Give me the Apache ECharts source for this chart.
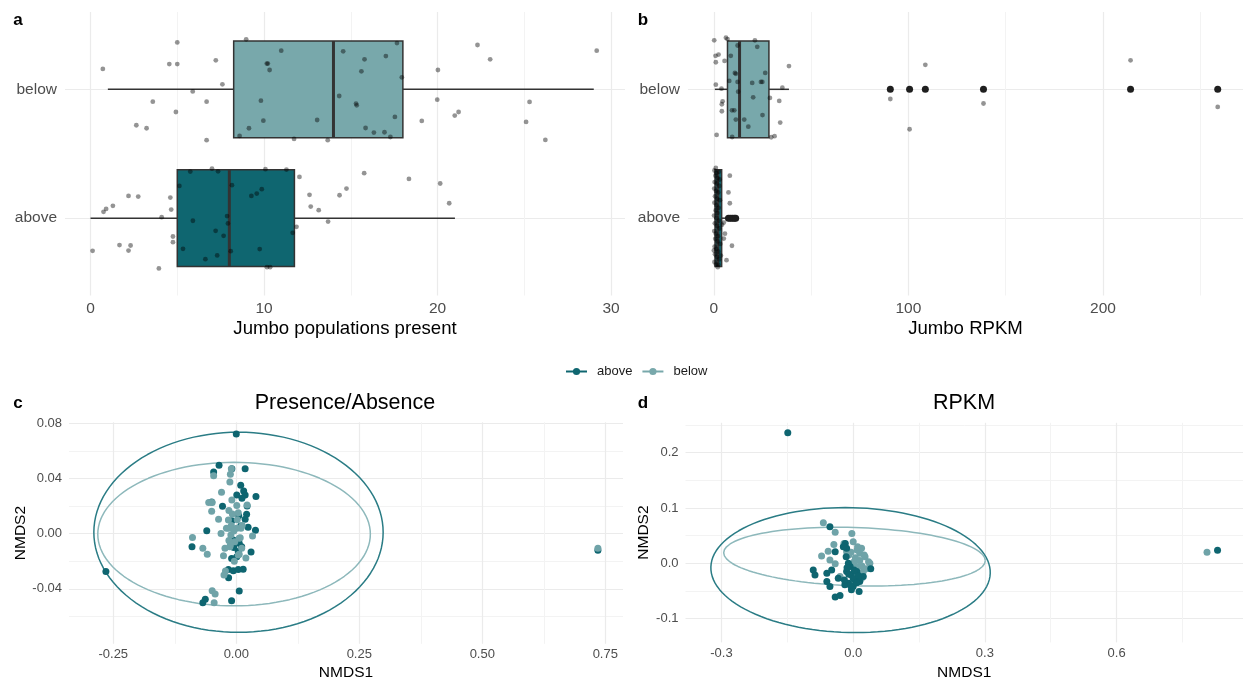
<!DOCTYPE html>
<html><head><meta charset="utf-8">
<script src="https://cdn.jsdelivr.net/npm/echarts@6/dist/echarts.min.js"></script>
<style>html,body{margin:0;padding:0;background:#fff}#chart{width:1244px;height:679px}</style>
</head><body><div id="chart"></div>
<script>
// ---------- data ----------
const categories = ['above', 'below'];           // y positions 1, 2
// box stats: [min, Q1, median, Q3, max]
const aBoxAbove = [0, 5, 8, 11.75, 21];
const aBoxBelow = [1, 8.25, 14, 18, 29];
const bBoxAbove = [0.2, 0.6, 2.0, 4.0, 6.5];
const bBoxBelow = [0.5, 7.0, 13.2, 28.3, 38.6];
const bOutliersAbove = [7.5, 8.5, 9.5, 10.5, 11.2];
const bOutliersBelow = [90.7, 100.6, 108.7, 138.6, 214.2, 259];

// jittered points: [value, vertical jitter offset]
const aJitterBelow = [[8.97,0.388],[5.0,0.364],[0.71,0.158],[4.54,0.196],[5.0,0.196],[7.22,0.225],[7.6,0.039],[5.89,-0.016],[3.59,-0.096],[6.69,-0.096],[4.92,-0.176],[2.64,-0.279],[3.23,-0.302],[6.69,-0.395],[10.99,0.30],[10.16,0.20],[10.22,0.20],[10.32,0.15],[9.82,-0.088],[9.96,-0.243],[9.13,-0.302],[8.59,-0.362],[11.73,-0.385],[13.06,-0.238],[13.67,-0.395],[14.56,0.295],[15.79,0.233],[17.02,0.258],[17.66,0.359],[15.61,0.14],[17.94,0.093],[14.33,-0.052],[15.3,-0.111],[15.34,-0.124],[17.54,-0.214],[15.85,-0.30],[16.33,-0.336],[16.94,-0.333],[17.28,-0.37],[22.3,0.344],[23.03,0.233],[20.02,0.15],[19.98,-0.08],[19.09,-0.245],[20.99,-0.204],[21.21,-0.176],[25.3,-0.098],[25.1,-0.253],[26.21,-0.393],[29.17,0.30]];
const aJitterAbove = [[0.12,-0.253],[0.75,0.049],[0.9,0.072],[1.29,0.096],[2.19,0.173],[2.75,0.168],[1.67,-0.209],[2.31,-0.212],[2.19,-0.251],[3.94,-0.39],[4.1,0.008],[4.6,0.16],[4.65,0.067],[4.75,-0.142],[4.75,-0.186],[5.12,0.25],[5.75,0.362],[5.9,-0.02],[5.33,-0.238],[6.62,-0.318],[7.0,0.385],[7.35,0.364],[7.21,-0.098],[7.67,-0.137],[7.3,-0.289],[7.87,0.016],[7.92,-0.041],[8.15,0.256],[8.08,-0.256],[9.27,0.173],[9.58,0.191],[9.87,0.225],[10.08,0.38],[9.75,-0.24],[10.17,-0.38],[10.35,-0.38],[11.29,0.377],[12.04,0.32],[11.65,-0.114],[11.87,-0.067],[12.62,0.181],[12.69,0.09],[13.15,0.062],[13.69,-0.026],[14.35,0.178],[14.75,0.23],[15.77,0.349],[18.35,0.305],[20.15,0.269],[20.67,0.116]];
const bJitterBelow = [[0.17,0.38],[6.2,0.40],[7.0,0.39],[0.86,0.26],[2.4,0.27],[1.0,0.21],[5.5,0.22],[8.7,0.26],[12.2,0.34],[21.1,0.38],[22.3,0.33],[38.6,0.18],[26.4,0.127],[10.8,0.127],[11.3,0.12],[7.9,0.065],[12.2,0.057],[19.7,0.05],[24.2,0.057],[24.9,0.057],[1.0,0.036],[3.9,0.005],[12.5,-0.018],[35.2,0.013],[20.2,-0.062],[28.8,-0.067],[33.6,-0.09],[4.5,-0.093],[4.1,-0.116],[4.1,-0.17],[9.3,-0.163],[10.5,-0.163],[11.3,-0.235],[15.6,-0.235],[25.0,-0.2],[17.7,-0.29],[34.1,-0.258],[1.4,-0.354],[9.4,-0.37],[29.5,-0.372],[31.2,-0.364],[90.7,-0.075],[100.6,-0.31],[108.7,0.19],[138.6,-0.11],[214.2,0.225],[259,-0.137]];
const bJitterAbove = [[0.3,0.37],[1.2,0.35],[2.5,0.36],[0.8,0.33],[1.9,0.31],[0.4,0.28],[1.5,0.27],[2.8,0.25],[0.2,0.23],[1.1,0.21],[2.2,0.2],[0.6,0.17],[1.7,0.15],[3.1,0.14],[0.3,0.12],[1.3,0.1],[2.4,0.08],[0.9,0.06],[1.8,0.04],[0.1,0.02],[1.4,0.0],[2.6,-0.02],[0.5,-0.04],[1.6,-0.06],[2.9,-0.08],[0.2,-0.1],[1.0,-0.12],[2.1,-0.14],[0.7,-0.16],[1.9,-0.18],[3.3,-0.2],[0.4,-0.22],[1.2,-0.24],[2.3,-0.26],[0.6,-0.28],[1.5,-0.3],[2.7,-0.32],[0.3,-0.34],[1.1,-0.36],[2.0,-0.38],[3.6,-0.29],[3.0,0.3],[0.0,-0.25],[1.0,0.39],[2.2,-0.36],[8.2,0.33],[7.5,0.2],[8.2,0.116],[5.1,-0.034],[5.7,-0.12],[9.3,-0.214],[6.5,-0.326],[5.1,-0.158],[4.2,-0.05]];

// NMDS points [NMDS1, NMDS2]
const cAbove = [[-0.035,0.0495],[-0.046,0.0447],[-0.009,0.047],[0.018,0.047],[0.009,0.035],[0.001,0.028],[0.015,0.031],[0.018,0.028],[0.0115,0.0256],[0.04,0.027],[-0.028,0.0198],[-0.05,0.023],[0.022,0.020],[0.021,0.014],[0.018,0.0104],[0.005,0.013],[-0.009,0.0094],[0.009,0.0056],[0.024,0.0046],[0.039,0.0024],[-0.060,0.0022],[-0.090,-0.0094],[-0.006,-0.0046],[-0.005,-0.01],[0.006,-0.007],[0.011,-0.0094],[0.030,-0.0133],[0.004,-0.013],[0.001,-0.0167],[-0.0095,-0.018],[-0.016,-0.026],[-0.006,-0.0268],[0.004,-0.026],[0.014,-0.0258],[-0.0156,-0.0319],[0.006,-0.0415],[-0.0095,-0.0486],[-0.063,-0.0476],[-0.068,-0.050],[0.0,0.0722],[-0.265,-0.0275],[0.735,-0.012]];
const cBelow = [[-0.046,0.042],[-0.012,0.043],[-0.010,0.047],[-0.013,0.0374],[-0.030,0.030],[-0.056,0.0225],[-0.049,0.0225],[-0.050,0.0162],[-0.009,0.0244],[0.001,0.0205],[0.022,0.0208],[-0.015,0.0167],[0.004,0.0152],[-0.008,0.0143],[-0.036,0.0104],[-0.016,0.0099],[-0.010,0.006],[0.001,0.0039],[-0.0156,0.0039],[0.0095,0.0039],[-0.031,0.0002],[-0.011,-0.001],[0.033,-0.0017],[-0.089,-0.0027],[0.006,-0.0034],[-0.015,-0.005],[-0.003,-0.0058],[-0.023,-0.0106],[-0.013,-0.0094],[0.011,-0.0106],[-0.068,-0.0106],[-0.059,-0.015],[-0.026,-0.016],[0.0195,-0.0176],[0.004,-0.0155],[-0.022,-0.027],[-0.025,-0.030],[-0.049,-0.0413],[-0.043,-0.0437],[-0.045,-0.050],[-0.005,0.002],[0.008,-0.003],[-0.012,-0.008],[0.002,0.01],[0.012,0.006],[-0.02,0.004],[0.006,-0.015],[-0.004,-0.02],[0.735,-0.0105]];
const dAbove = [[-0.053,0.066],[-0.041,0.021],[-0.018,0.036],[-0.015,0.027],[-0.0225,0.030],[-0.091,-0.012],[-0.087,-0.021],[-0.060,-0.018],[-0.049,-0.012],[-0.060,-0.033],[-0.053,-0.042],[-0.034,-0.027],[-0.015,-0.015],[-0.007,-0.006],[-0.004,-0.021],[0.008,-0.015],[0.004,-0.030],[-0.011,-0.036],[0.015,-0.033],[0.023,-0.024],[0.040,-0.010],[-0.041,-0.061],[-0.030,-0.058],[-0.004,-0.048],[0.0135,-0.051],[-0.019,-0.039],[0.0,-0.042],[-0.011,0.0],[-0.016,0.012],[-0.01,-0.02],[0.0,-0.028],[0.008,-0.035],[-0.006,-0.04],[0.012,-0.022],[-0.014,-0.008],[0.002,-0.012],[-0.02,-0.03],[-0.149,0.236],[0.830,0.0235]];
const dBelow = [[-0.068,0.0735],[-0.041,0.056],[-0.003,0.054],[0.0,0.039],[-0.044,0.034],[-0.057,0.022],[-0.072,0.013],[-0.053,0.006],[-0.041,-0.001],[0.015,0.018],[0.027,0.012],[0.035,0.003],[0.038,0.0],[0.009,0.024],[0.019,0.027],[0.002,0.003],[0.012,-0.006],[0.023,-0.015],[0.019,-0.027],[-0.015,0.021],[-0.021,0.036],[-0.030,-0.024],[0.005,0.01],[0.015,0.005],[-0.005,0.02],[0.025,0.015],[0.02,-0.005],[0.01,0.03],[-0.01,0.015],[0.03,-0.01],[0.0,-0.005],[0.806,0.020]];

// ellipse parameters [centre x, centre y, radius x, radius y, x-shear, y-shear]
const cEllipseAbove = [0.0045, 0.001, 0.294, 0.0725, 0, 0];
const cEllipseBelow = [-0.0045, -0.0003, 0.277, 0.052, 0, 0];
const dEllipseAbove = [-0.006, -0.0123, 0.318, 0.113, -0.012, 0];
const dEllipseBelow = [0.003, 0.012, 0.298, 0.0527, 0, -0.007];

// tick labels
const aTicksX = [0, 10, 20, 30];
const aMinorX = [5, 15, 25];
const bTicksX = [0, 100, 200];
const bMinorX = [50, 150, 250];
const cTicksX = [-0.25, 0, 0.25, 0.5, 0.75];
const cMinorX = [-0.125, 0.125, 0.375, 0.625];
const cTicksY = [-0.04, 0, 0.04, 0.08];
const cMinorY = [-0.06, -0.02, 0.02, 0.06];
const dTicksX = [-0.3, 0, 0.3, 0.6];
const dMinorX = [-0.15, 0.15, 0.45, 0.75];
const dTicksY = [-0.1, 0, 0.1, 0.2];
const dMinorY = [-0.05, 0.05, 0.15, 0.25];

// ---------- styles ----------
const DARK = '#0f6670';
const LIGHT = '#78a8ab';
const DARK_PT = '#0e6570';
const LIGHT_PT = '#6fa3a8';
const DARK_ELL = '#2a7c85';
const LIGHT_ELL = '#8db8bb';
const LINE = '#333333';
const GRID = '#ebebeb';
const GRID_MINOR = '#f3f3f3';
const FONT = '"Liberation Sans", Arial, Helvetica, sans-serif';
const BOX_HALF = 0.375;
const BOX_FILLS = [DARK, LIGHT];

function ellipse(p) {
  const pts = [];
  for (let k = 0; k <= 120; k++) {
    const t = k / 120 * Math.PI * 2;
    pts.push([p[0] + p[2] * Math.cos(t) + p[4] * Math.sin(t), p[1] + p[3] * Math.sin(t) + p[5] * Math.cos(t)]);
  }
  return pts;
}

function majorAxis(grid, min, max, ticks, fmt, name, nameGap, labelSize, nameSize, margin) {
  return {
    type: 'value', gridIndex: grid, min: min, max: max,
    axisLine: {show: false},
    axisTick: {show: false, customValues: ticks},
    axisLabel: {customValues: ticks, formatter: fmt, color: '#4d4d4d', fontSize: labelSize, fontFamily: FONT, margin: margin},
    splitLine: {show: true, customValues: ticks, lineStyle: {color: GRID, width: 1.2}},
    name: name, nameLocation: 'middle', nameGap: nameGap,
    nameTextStyle: {color: '#000', fontSize: nameSize, fontFamily: FONT}
  };
}
function minorAxis(grid, min, max, ticks) {
  return {
    type: 'value', gridIndex: grid, min: min, max: max,
    axisLine: {show: false},
    axisTick: {show: false, customValues: ticks},
    axisLabel: {show: false, customValues: ticks},
    splitLine: {show: true, customValues: ticks, lineStyle: {color: GRID_MINOR, width: 1}}
  };
}

function renderBox(params, api) {
  const pos = api.value(0);
  const v = [api.value(1), api.value(2), api.value(3), api.value(4), api.value(5)];
  const tl = api.coord([v[1], pos + BOX_HALF]);
  const br = api.coord([v[3], pos - BOX_HALF]);
  const cMin = api.coord([v[0], pos]), cQ1 = api.coord([v[1], pos]);
  const cQ3 = api.coord([v[3], pos]), cMax = api.coord([v[4], pos]);
  const mT = api.coord([v[2], pos + BOX_HALF]), mB = api.coord([v[2], pos - BOX_HALF]);
  return {type: 'group', children: [
    {type: 'line', shape: {x1: cMin[0], y1: cMin[1], x2: cQ1[0], y2: cQ1[1]}, style: {stroke: LINE, lineWidth: 1.5}},
    {type: 'line', shape: {x1: cQ3[0], y1: cQ3[1], x2: cMax[0], y2: cMax[1]}, style: {stroke: LINE, lineWidth: 1.5}},
    {type: 'rect', shape: {x: tl[0], y: tl[1], width: br[0] - tl[0], height: br[1] - tl[1]}, style: {fill: BOX_FILLS[params.dataIndex], stroke: LINE, lineWidth: 1.5}},
    {type: 'line', shape: {x1: mT[0], y1: mT[1], x2: mB[0], y2: mB[1]}, style: {stroke: LINE, lineWidth: 3}}
  ]};
}

const catFmt = v => categories[Math.round(v) - 1];
const jit = (arr, pos) => arr.map(d => [d[0], pos + d[1]]);
const f2 = v => v.toFixed(2);
const f1 = v => v.toFixed(1);
const JIT_STYLE = {color: 'rgba(0,0,0,0.42)', opacity: 1};

const A_Y = [0.4, 2.6];
const option = {
  animation: false,
  grid: [
    {left: 65, top: 12, width: 560, height: 283.5, outerBoundsMode: 'none'},
    {left: 688, top: 12, width: 555, height: 283.5, outerBoundsMode: 'none'},
    {left: 69, top: 422.3, width: 554, height: 221.5, outerBoundsMode: 'none'},
    {left: 685.5, top: 422.8, width: 557.5, height: 219.6, outerBoundsMode: 'none'}
  ],
  xAxis: [
    majorAxis(0, -1.47, 30.8, aTicksX, v => String(v), 'Jumbo populations present', 24, 15.5, 18.6, 5),
    minorAxis(0, -1.47, 30.8, aMinorX),
    majorAxis(1, -13.3, 272, bTicksX, v => String(v), 'Jumbo RPKM', 24, 15.5, 18.6, 5),
    minorAxis(1, -13.3, 272, bMinorX),
    majorAxis(2, -0.34, 0.786, cTicksX, f2, 'NMDS1', 21, 13, 15.5, 4.5),
    minorAxis(2, -0.34, 0.786, cMinorX),
    majorAxis(3, -0.382, 0.888, dTicksX, f1, 'NMDS1', 22.5, 13, 15.5, 4.5),
    minorAxis(3, -0.382, 0.888, dMinorX)
  ],
  yAxis: [
    majorAxis(0, A_Y[0], A_Y[1], [1, 2], catFmt, '', 0, 15.5, 15, 8),
    majorAxis(1, A_Y[0], A_Y[1], [1, 2], catFmt, '', 0, 15.5, 15, 8),
    majorAxis(2, -0.0798, 0.0807, cTicksY, f2, 'NMDS2', 37, 13, 15.5, 7),
    minorAxis(2, -0.0798, 0.0807, cMinorY),
    majorAxis(3, -0.143, 0.254, dTicksY, f1, 'NMDS2', 32, 13, 15.5, 7),
    minorAxis(3, -0.143, 0.254, dMinorY)
  ],
  legend: {
    left: 560, top: 360, itemWidth: 21, itemHeight: 9, itemGap: 9, selectedMode: false,
    textStyle: {fontSize: 13, color: '#1a1a1a', fontFamily: FONT, padding: [0, 0, 0, 5]},
    data: [
      {name: 'above', itemStyle: {color: DARK}, lineStyle: {color: DARK, width: 2}},
      {name: 'below', itemStyle: {color: LIGHT}, lineStyle: {color: LIGHT, width: 2}}
    ]
  },
  graphic: [
    {type: 'text', x: 18, y: 20, style: {text: 'a', font: 'bold 17px ' + FONT, fill: '#000', align: 'center', verticalAlign: 'middle'}},
    {type: 'text', x: 643, y: 20, style: {text: 'b', font: 'bold 17px ' + FONT, fill: '#000', align: 'center', verticalAlign: 'middle'}},
    {type: 'text', x: 18, y: 403, style: {text: 'c', font: 'bold 17px ' + FONT, fill: '#000', align: 'center', verticalAlign: 'middle'}},
    {type: 'text', x: 643, y: 403, style: {text: 'd', font: 'bold 17px ' + FONT, fill: '#000', align: 'center', verticalAlign: 'middle'}},
    {type: 'text', x: 345, y: 403, style: {text: 'Presence/Absence', font: '21.5px ' + FONT, fill: '#000', align: 'center', verticalAlign: 'middle'}},
    {type: 'text', x: 964, y: 403, style: {text: 'RPKM', font: '21.5px ' + FONT, fill: '#000', align: 'center', verticalAlign: 'middle'}}
  ],
  series: [
    // panel a
    {type: 'custom', xAxisIndex: 0, yAxisIndex: 0, renderItem: renderBox, encode: {x: [1, 2, 3, 4, 5], y: 0},
     data: [[1].concat(aBoxAbove), [2].concat(aBoxBelow)], silent: true, z: 2},
    {type: 'scatter', xAxisIndex: 0, yAxisIndex: 0, symbolSize: 4.8, itemStyle: JIT_STYLE,
     data: jit(aJitterBelow, 2).concat(jit(aJitterAbove, 1)), silent: true, z: 3},
    // panel b
    {type: 'custom', xAxisIndex: 2, yAxisIndex: 1, renderItem: renderBox, encode: {x: [1, 2, 3, 4, 5], y: 0},
     data: [[1].concat(bBoxAbove), [2].concat(bBoxBelow)], silent: true, z: 2},
    {type: 'scatter', xAxisIndex: 2, yAxisIndex: 1, symbolSize: 7, itemStyle: {color: '#1f1f1f', opacity: 1},
     data: bOutliersAbove.map(v => [v, 1]).concat(bOutliersBelow.map(v => [v, 2])), silent: true, z: 2},
    {type: 'scatter', xAxisIndex: 2, yAxisIndex: 1, symbolSize: 4.8, itemStyle: JIT_STYLE,
     data: jit(bJitterBelow, 2).concat(jit(bJitterAbove, 1)), silent: true, z: 3},
    // panel c
    {type: 'line', name: 'above', xAxisIndex: 4, yAxisIndex: 2, data: ellipse(cEllipseAbove), showSymbol: false, symbol: 'circle',
     lineStyle: {color: DARK_ELL, width: 1.5}, itemStyle: {color: DARK_ELL}, silent: true, z: 2},
    {type: 'line', name: 'below', xAxisIndex: 4, yAxisIndex: 2, data: ellipse(cEllipseBelow), showSymbol: false, symbol: 'circle',
     lineStyle: {color: LIGHT_ELL, width: 1.5}, itemStyle: {color: LIGHT_ELL}, silent: true, z: 2},
    {type: 'scatter', xAxisIndex: 4, yAxisIndex: 2, symbolSize: 7, itemStyle: {color: DARK_PT, opacity: 1}, data: cAbove, silent: true, z: 3},
    {type: 'scatter', xAxisIndex: 4, yAxisIndex: 2, symbolSize: 7, itemStyle: {color: LIGHT_PT, opacity: 1}, data: cBelow, silent: true, z: 3},
    // panel d
    {type: 'line', name: 'above', xAxisIndex: 6, yAxisIndex: 4, data: ellipse(dEllipseAbove), showSymbol: false, symbol: 'circle',
     lineStyle: {color: DARK_ELL, width: 1.5}, itemStyle: {color: DARK_ELL}, silent: true, z: 2},
    {type: 'line', name: 'below', xAxisIndex: 6, yAxisIndex: 4, data: ellipse(dEllipseBelow), showSymbol: false, symbol: 'circle',
     lineStyle: {color: LIGHT_ELL, width: 1.5}, itemStyle: {color: LIGHT_ELL}, silent: true, z: 2},
    {type: 'scatter', xAxisIndex: 6, yAxisIndex: 4, symbolSize: 7, itemStyle: {color: LIGHT_PT, opacity: 1}, data: dBelow, silent: true, z: 3},
    {type: 'scatter', xAxisIndex: 6, yAxisIndex: 4, symbolSize: 7, itemStyle: {color: DARK_PT, opacity: 1}, data: dAbove, silent: true, z: 3}
  ]
};
const chart = echarts.init(document.getElementById('chart'), null, {renderer: 'canvas'});
chart.setOption(option);
</script></body></html>
